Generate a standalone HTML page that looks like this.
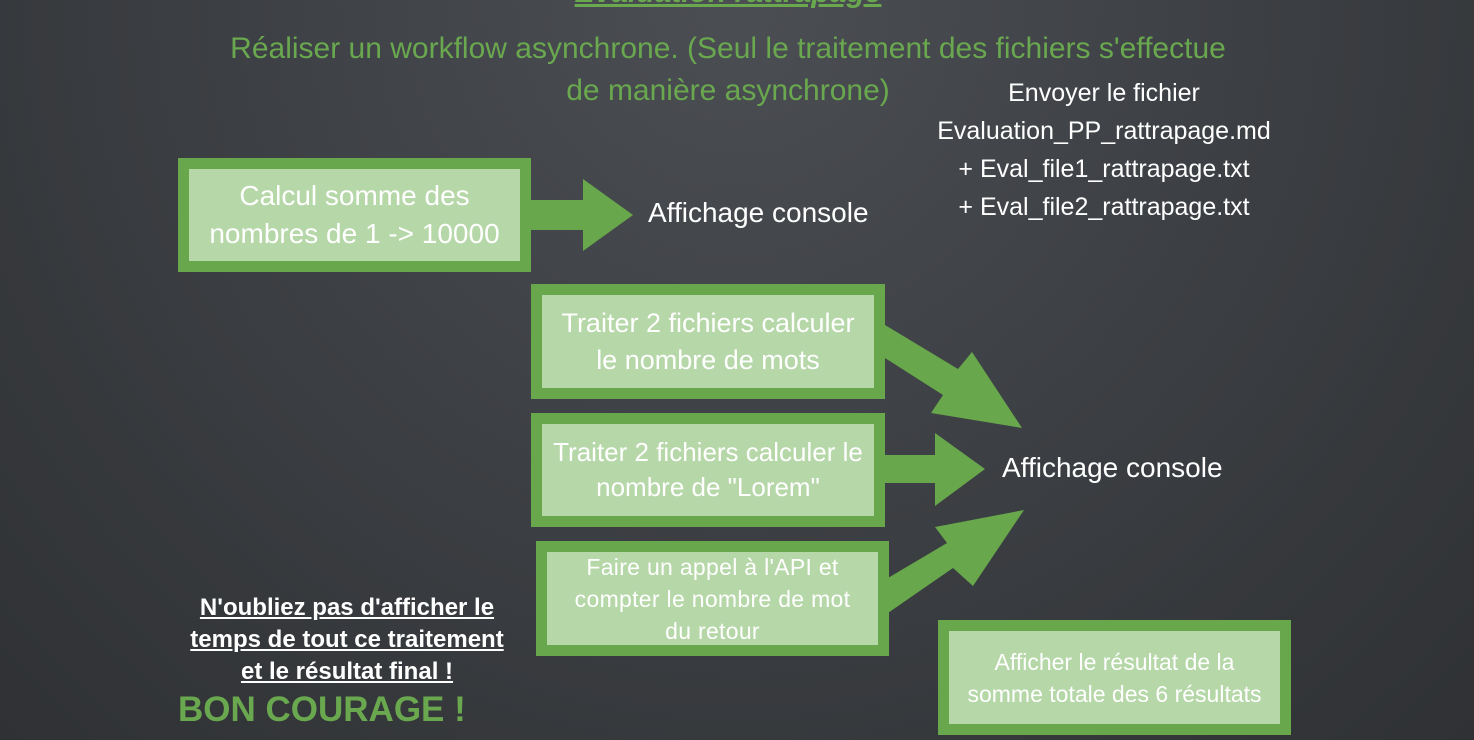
<!DOCTYPE html>
<html><head><meta charset="utf-8"><style>
body{margin:0;width:1474px;height:740px;overflow:hidden;background:radial-gradient(ellipse at 50% 0%,#4b4e53 0%,#3c3f43 50%,#2f3134 100%);font-family:"Liberation Sans",sans-serif;position:relative}
.t{position:absolute;white-space:nowrap;text-align:center}
.box{position:absolute;background:#68a74c;box-sizing:border-box}
.box div{position:absolute;left:11px;top:11px;right:11px;bottom:11px;background:#b6d7a8;color:#fff;display:flex;align-items:center;justify-content:center;text-align:center;white-space:nowrap}
.w{color:#fff}
</style></head><body>
<div class="t" style="left:478px;top:-24px;width:500px;color:#6aa84f;font-size:30px;font-weight:bold;font-style:italic;text-decoration:underline">Evaluation rattrapage</div>
<div class="t" style="left:128px;top:28px;width:1200px;color:#6aa84f;font-size:30px;line-height:42px">Réaliser un workflow asynchrone. (Seul le traitement des fichiers s'effectue<br>de manière asynchrone)</div>
<div class="t w" style="left:904px;top:74px;width:400px;font-size:25px;line-height:38px">Envoyer le fichier<br>Evaluation_PP_rattrapage.md<br>+ Eval_file1_rattrapage.txt<br>+ Eval_file2_rattrapage.txt</div>
<div class="box" style="left:178px;top:158px;width:353px;height:114px"><div style="font-size:28px;line-height:38px">Calcul somme des<br>nombres de 1 -&gt; 10000</div></div>
<div class="box" style="left:531px;top:284px;width:354px;height:115px"><div style="font-size:27px;line-height:37px">Traiter 2 fichiers calculer<br>le nombre de mots</div></div>
<div class="box" style="left:531px;top:413px;width:354px;height:114px"><div style="font-size:26px;line-height:35px">Traiter 2 fichiers calculer le<br>nombre de "Lorem"</div></div>
<div class="box" style="left:536px;top:541px;width:353px;height:115px"><div style="font-size:23px;line-height:32px;letter-spacing:0.3px">Faire un appel à l'API et<br>compter le nombre de mot<br>du retour</div></div>
<div class="box" style="left:938px;top:620px;width:353px;height:115px"><div style="font-size:23px;line-height:32px">Afficher le résultat de la<br>somme totale des 6 résultats</div></div>
<div class="t w" style="left:648px;top:197px;font-size:28px">Affichage console</div>
<div class="t w" style="left:1002px;top:452px;font-size:28px">Affichage console</div>
<div class="t w" style="left:147px;top:592px;width:400px;font-size:24px;font-weight:bold;line-height:32px;text-decoration:underline">N'oubliez pas d'afficher le<br>temps de tout ce traitement<br>et le résultat final !</div>
<div class="t" style="left:178px;top:690px;color:#6aa84f;font-size:35px;font-weight:bold">BON COURAGE !</div>
<svg width="1474" height="740" style="position:absolute;left:0;top:0">
<g fill="#68a74c">
<polygon points="531,200 583,200 583,179 633,215 583,251 583,230 531,230"/>
<polygon points="885,325 958,369 972,352 1022,428 931,413 943,395 885,358"/>
<polygon points="885,455 935,455 935,433 985,469 935,506 935,483 885,483"/>
<polygon points="888,578 947,543 935,527 1024,510 973,586 953,568 888,613"/>
</g></svg>
</body></html>
